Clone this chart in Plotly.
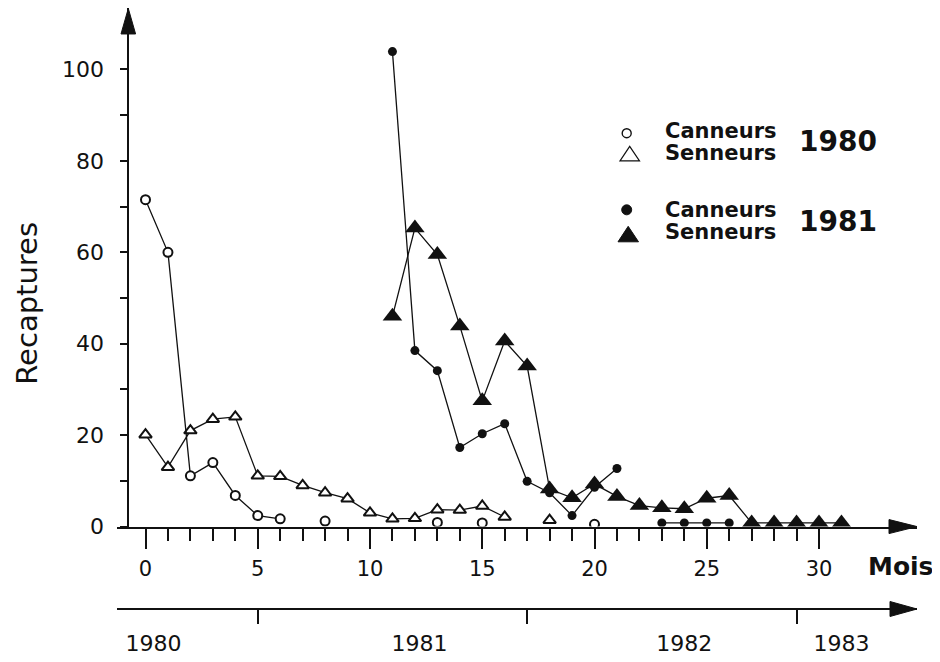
import plotly.graph_objects as go

# ---------------- data ----------------
months = list(range(0, 32))

canneurs_1980 = [71.5, 60.0, 11.1, 14.0, 6.8, 2.4, 1.7, None, 1.2, None,
                 None, None, None, 0.9, None, 0.8, None, None, None, None,
                 0.5, None, None, None, None, None, None, None, None, None,
                 None, None]
senneurs_1980 = [20.1, 13.0, 21.0, 23.5, 24.0, 11.1, 11.0, 9.0, 7.4, 6.1,
                 3.0, 1.7, 1.8, 3.7, 3.6, 4.5, 2.1, None, 1.4, None,
                 None, None, None, None, None, None, None, None, None, None,
                 None, None]
canneurs_1981 = [None, None, None, None, None, None, None, None, None, None,
                 None, 103.9, 38.5, 34.1, 17.3, 20.3, 22.5, 9.9, 7.4, 2.4,
                 8.6, 12.7, None, 0.8, 0.8, 0.8, 0.8, None, None, None,
                 None, None]
senneurs_1981 = [None, None, None, None, None, None, None, None, None, None,
                 None, 46.0, 65.3, 59.5, 43.9, 27.5, 40.6, 35.1, 8.2, 6.3,
                 9.3, 6.6, 4.6, 4.1, 3.9, 6.2, 6.8, 0.8, 0.8, 0.8,
                 0.8, 0.8]

month_ticks = [0, 5, 10, 15, 20, 25, 30]
y_ticks = [0, 10, 20, 30, 40, 50, 60, 70, 80, 90, 100]
y_ticktext = ["0", "", "20", "", "40", "", "60", "", "80", "", "100"]
year_labels = ["1980", "1981", "1982", "1983"]
year_label_pos = [0.36, 12.2, 24.0, 31.0]
year_boundaries = [5, 17, 29]

# ---------------- geometry (screen pixels) ----------------
W, H = 940, 662
PAGE = 8                                  # default body margin of the page
L, R, T, B = 117, 917, 8, 609.5           # plot area on screen
X0_PX, PX_PER_MONTH = 145.5, 22.45
Y0_PX, PX_PER_UNIT = 527.0, 4.575


def fx(px):
    return (px - L) / (R - L)


def fy(py):
    return (B - py) / (B - T)


x_range = [(L - X0_PX) / PX_PER_MONTH, (R - X0_PX) / PX_PER_MONTH]
y_range = [0, (Y0_PX - T) / PX_PER_UNIT]
y_domain = [fy(Y0_PX), 1]
yaxis_pos = fx(128.3)

FONT = "DejaVu Sans"
BLACK = "#111111"

fig = go.Figure()

fig.add_trace(go.Scatter(
    x=months, y=senneurs_1980, mode="lines+markers", name="Senneurs 1980",
    line=dict(color=BLACK, width=1.3), connectgaps=False,
    marker=dict(symbol="triangle-up", size=11, color="white",
                line=dict(color=BLACK, width=2))))
fig.add_trace(go.Scatter(
    x=months, y=canneurs_1980, mode="lines+markers", name="Canneurs 1980",
    line=dict(color=BLACK, width=1.3), connectgaps=False,
    marker=dict(symbol="circle", size=9, color="white",
                line=dict(color=BLACK, width=2))))
fig.add_trace(go.Scatter(
    x=months, y=canneurs_1981, mode="lines+markers", name="Canneurs 1981",
    line=dict(color=BLACK, width=1.3), connectgaps=False,
    marker=dict(symbol="circle", size=9, color=BLACK)))
fig.add_trace(go.Scatter(
    x=months, y=senneurs_1981, mode="lines+markers", name="Senneurs 1981",
    line=dict(color=BLACK, width=1.3), connectgaps=False,
    marker=dict(symbol="triangle-up", size=17, color=BLACK)))
# dummy trace so the calendar-year axis is drawn
fig.add_trace(go.Scatter(x=[None], y=[None], xaxis="x2", yaxis="y",
                         showlegend=False, hoverinfo="skip"))

shapes = []
# arrow heads
shapes.append(dict(type="path", xref="paper", yref="paper",
                   path=f"M {fx(121)},{fy(34)} L {fx(128.3)},{fy(8.5)} L {fx(135.6)},{fy(34)} Z",
                   fillcolor=BLACK, line=dict(color=BLACK, width=1)))
shapes.append(dict(type="path", xref="paper", yref="paper",
                   path=f"M {fx(889)},{fy(520)} L {fx(917)},{fy(527)} L {fx(889)},{fy(534)} Z",
                   fillcolor=BLACK, line=dict(color=BLACK, width=1)))
shapes.append(dict(type="path", xref="paper", yref="paper",
                   path=f"M {fx(890)},{fy(602)} L {fx(917)},{fy(609.5)} L {fx(890)},{fy(617)} Z",
                   fillcolor=BLACK, line=dict(color=BLACK, width=1)))
# legend keys
shapes.append(dict(type="circle", xref="paper", yref="paper",
                   x0=fx(622.2), x1=fx(631.2), y0=fy(137.8), y1=fy(128.8),
                   line=dict(color=BLACK, width=1.4), fillcolor="white"))
shapes.append(dict(type="path", xref="paper", yref="paper",
                   path=f"M {fx(620)},{fy(161)} L {fx(639.5)},{fy(161)} L {fx(629.7)},{fy(146.5)} Z",
                   line=dict(color=BLACK, width=1.2), fillcolor="white"))
shapes.append(dict(type="circle", xref="paper", yref="paper",
                   x0=fx(621.7), x1=fx(631.7), y0=fy(215), y1=fy(205),
                   line=dict(color=BLACK, width=1), fillcolor=BLACK))
shapes.append(dict(type="path", xref="paper", yref="paper",
                   path=f"M {fx(618)},{fy(242)} L {fx(638.5)},{fy(242)} L {fx(628.2)},{fy(226.5)} Z",
                   line=dict(color=BLACK, width=1), fillcolor=BLACK))

annotations = []


def txt(text, px, py, size, xanchor="center", bold=False, angle=0):
    annotations.append(dict(
        text=f"<b>{text}</b>" if bold else text, xref="paper", yref="paper",
        x=fx(px), y=fy(py), xanchor=xanchor, yanchor="middle",
        showarrow=False, textangle=angle,
        font=dict(family=FONT, size=size, color=BLACK)))


txt("Canneurs", 663, 131, 21, xanchor="left", bold=True)
txt("Senneurs", 663, 153, 21, xanchor="left", bold=True)
txt("1980", 797, 142, 28, xanchor="left", bold=True)
txt("Canneurs", 663, 210, 21, xanchor="left", bold=True)
txt("Senneurs", 663, 232, 21, xanchor="left", bold=True)
txt("1981", 797, 222, 28, xanchor="left", bold=True)
txt("Recaptures", 27, 304, 29, angle=-90)
txt("Mois", 901, 567, 25, bold=True)

fig.update_layout(
    width=W, height=H,
    margin=dict(l=L - PAGE, r=W - (R - PAGE), t=T - PAGE, b=H - (B - PAGE), pad=0),
    paper_bgcolor="white", plot_bgcolor="white",
    showlegend=False,
    font=dict(family=FONT, color=BLACK),
    shapes=shapes, annotations=annotations,
    xaxis=dict(
        range=x_range, anchor="y", showgrid=False, zeroline=False,
        showline=True, linecolor=BLACK, linewidth=2,
        tickmode="array", tickvals=month_ticks,
        ticks="outside", ticklen=20, tickwidth=1.5, tickcolor=BLACK,
        ticklabelstandoff=2,
        tickfont=dict(family=FONT, size=21, color=BLACK),
        minor=dict(tickmode="array", tickvals=list(range(0, 31)),
                   ticks="outside", ticklen=12, tickwidth=1.5,
                   tickcolor=BLACK, showgrid=False)),
    xaxis2=dict(
        range=x_range, overlaying="x", anchor="free", position=0,
        side="bottom", showgrid=False, zeroline=False,
        showline=True, linecolor=BLACK, linewidth=2,
        tickmode="array", tickvals=year_label_pos, ticktext=year_labels,
        ticks="", ticklabelstandoff=15,
        tickfont=dict(family=FONT, size=22, color=BLACK),
        minor=dict(tickmode="array", tickvals=year_boundaries,
                   ticks="outside", ticklen=14, tickwidth=1.5,
                   tickcolor=BLACK, showgrid=False)),
    yaxis=dict(
        range=y_range, domain=y_domain, anchor="free", position=yaxis_pos,
        showgrid=False, zeroline=False,
        showline=True, linecolor=BLACK, linewidth=2,
        tickmode="array", tickvals=y_ticks, ticktext=y_ticktext,
        ticks="outside", ticklen=7, tickwidth=1.5, tickcolor=BLACK,
        ticklabelstandoff=12,
        tickfont=dict(family=FONT, size=22, color=BLACK)),
)

fig.write_html("out.html")
